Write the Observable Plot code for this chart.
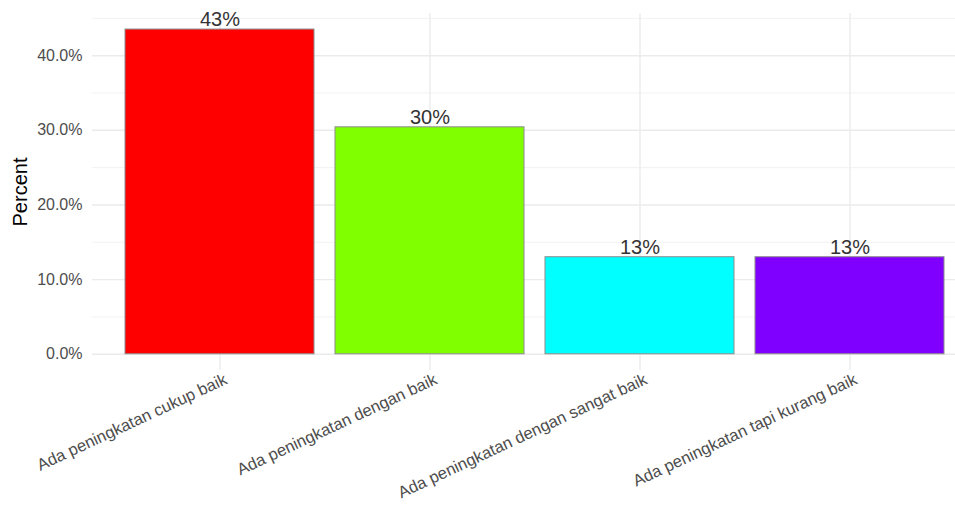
<!DOCTYPE html>
<html><head><meta charset="utf-8">
<script src="https://cdn.jsdelivr.net/npm/d3@7"></script>
<script src="https://cdn.jsdelivr.net/npm/@observablehq/plot@0.6"></script>
<style>body{margin:0;background:#fff;overflow:hidden;}</style>
</head><body><div id="chart"></div>
<script>
const categories = ["Ada peningkatan cukup baik", "Ada peningkatan dengan baik", "Ada peningkatan dengan sangat baik", "Ada peningkatan tapi kurang baik"];
const percents = [0.435, 0.304, 0.130, 0.130];
const barLabels = ["43%", "30%", "13%", "13%"];
const barColors = ["#FF0000", "#80FF00", "#00FFFF", "#8000FF"];
const yTicks = [0, 0.1, 0.2, 0.3, 0.4];
const yMinorTicks = [0.05, 0.15, 0.25, 0.35, 0.45];
const yTitle = "Percent";

const data = categories.map((c, i) => ({category: c, percent: percents[i], label: barLabels[i], color: barColors[i]}));

const chart = Plot.plot({
  width: 955, height: 516,
  marginTop: 13, marginBottom: 146, marginLeft: 92, marginRight: 0,
  style: {fontFamily: "'Liberation Sans', Arial, sans-serif", background: "#fff", overflow: "visible"},
  x: {domain: categories, range: [92, 976], paddingInner: 0.1, paddingOuter: 0.15, label: null},
  y: {domain: [-0.02175, 0.4565], label: null},
  color: {type: "identity"},
  marks: [
    Plot.ruleY(yMinorTicks, {stroke: "#f2f2f2", strokeWidth: 1}),
    Plot.ruleY(yTicks, {stroke: "#ebebeb", strokeWidth: 1.4}),
    Plot.ruleX(categories, {x: d => d, stroke: "#ebebeb", strokeWidth: 1.4}),
    Plot.barY(data, {x: "category", y: "percent", fill: "color", stroke: "#8c8c8c", strokeWidth: 1}),
    Plot.text(data, {x: "category", y: "percent", text: "label", dy: -10, fontSize: 20, fill: "#333333"}),
    Plot.axisY(yTicks, {tickFormat: d3.format(".1%"), tickSize: 0, tickPadding: 10, fontSize: 16, color: "#4d4d4d", label: null}),
    Plot.axisY({ticks: [], label: yTitle, labelAnchor: "center", labelOffset: 80, labelArrow: "none", fontSize: 20, color: "#000"}),
    Plot.axisX({tickSize: 0, tickPadding: 8, tickRotate: -25, fontSize: 16.5, color: "#4d4d4d", label: null, dx: 6})
  ]
});
document.getElementById("chart").appendChild(chart);
</script></body></html>
